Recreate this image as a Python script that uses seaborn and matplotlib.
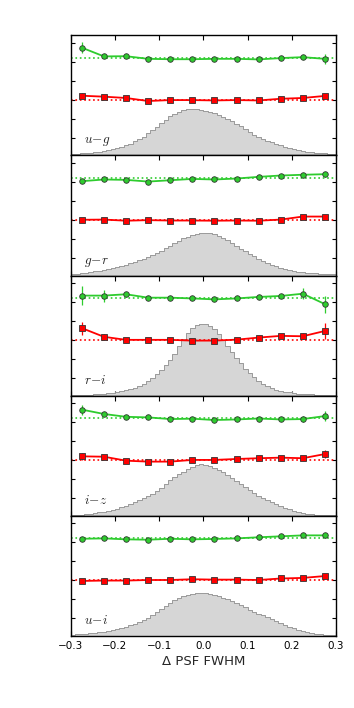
import numpy as np
import pandas as pd
import matplotlib
matplotlib.use("Agg")
import matplotlib.pyplot as plt
import seaborn as sns

OUT_PATH = "out.png"

# ─────────────────────────────────────────────
# Data
# ─────────────────────────────────────────────
PANEL_LABELS = [r"$u\!-\!g$", r"$g\!-\!r$", r"$r\!-\!i$", r"$i\!-\!z$", r"$u\!-\!i$"]

X_TICKS = [-0.3, -0.2, -0.1, 0.0, 0.1, 0.2, 0.3]
BIN_EDGES = [round(-0.3 + 0.01 * i, 3) for i in range(61)]

POINT_X = [-0.275, -0.225, -0.175, -0.125, -0.075, -0.025,
           0.025, 0.075, 0.125, 0.175, 0.225, 0.275]

# histogram heights, one per 0.01 bin from -0.3 to 0.3
HIST_UG = [0.09, 0.10, 0.11, 0.13, 0.14, 0.16, 0.19, 0.22, 0.27, 0.32,
           0.39, 0.46, 0.54, 0.63, 0.74, 0.86, 1.00, 1.17, 1.35, 1.53,
           1.72, 1.90, 2.07, 2.21, 2.32, 2.40, 2.45, 2.46, 2.45, 2.42,
           2.37, 2.30, 2.23, 2.14, 2.04, 1.93, 1.82, 1.69, 1.55, 1.40,
           1.24, 1.10, 0.98, 0.88, 0.79, 0.70, 0.61, 0.53, 0.46, 0.39,
           0.33, 0.28, 0.24, 0.21, 0.18, 0.15, 0.13, 0.12, 0.10, 0.09]
HIST_GR = [0.08, 0.10, 0.13, 0.16, 0.19, 0.22, 0.26, 0.30, 0.35, 0.40,
           0.46, 0.52, 0.58, 0.65, 0.72, 0.80, 0.89, 0.99, 1.09, 1.20,
           1.32, 1.45, 1.58, 1.71, 1.84, 1.96, 2.06, 2.14, 2.20, 2.23,
           2.24, 2.23, 2.19, 2.11, 2.00, 1.87, 1.73, 1.58, 1.43, 1.28,
           1.14, 1.01, 0.89, 0.78, 0.68, 0.58, 0.50, 0.42, 0.36, 0.30,
           0.25, 0.21, 0.18, 0.15, 0.13, 0.11, 0.09, 0.08, 0.07, 0.06]
HIST_RI = [0.02, 0.03, 0.03, 0.04, 0.05, 0.06, 0.07, 0.09, 0.12, 0.15,
           0.19, 0.24, 0.29, 0.35, 0.42, 0.51, 0.62, 0.77, 0.95, 1.16,
           1.38, 1.62, 1.88, 2.22, 2.60, 2.97, 3.30, 3.56, 3.72, 3.78,
           3.77, 3.70, 3.52, 3.25, 2.95, 2.62, 2.30, 1.98, 1.70, 1.43,
           1.18, 0.96, 0.77, 0.62, 0.50, 0.40, 0.32, 0.26, 0.21, 0.17,
           0.14, 0.11, 0.09, 0.07, 0.06, 0.05, 0.04, 0.03, 0.03, 0.02]
HIST_IZ = [0.03, 0.04, 0.06, 0.08, 0.11, 0.14, 0.17, 0.21, 0.25, 0.31,
           0.37, 0.44, 0.52, 0.61, 0.71, 0.81, 0.92, 1.04, 1.16, 1.30,
           1.49, 1.70, 1.90, 2.05, 2.19, 2.32, 2.46, 2.58, 2.66, 2.71,
           2.70, 2.63, 2.54, 2.42, 2.29, 2.16, 2.01, 1.86, 1.70, 1.53,
           1.36, 1.20, 1.06, 0.93, 0.81, 0.70, 0.60, 0.50, 0.41, 0.33,
           0.26, 0.20, 0.15, 0.11, 0.08, 0.06, 0.05, 0.04, 0.03, 0.03]
HIST_UI = [0.05, 0.07, 0.09, 0.11, 0.13, 0.15, 0.18, 0.21, 0.25, 0.30,
           0.35, 0.42, 0.49, 0.56, 0.64, 0.73, 0.83, 0.95, 1.09, 1.24,
           1.42, 1.60, 1.76, 1.89, 1.99, 2.08, 2.16, 2.22, 2.26, 2.27,
           2.25, 2.21, 2.15, 2.08, 2.00, 1.92, 1.83, 1.73, 1.62, 1.50,
           1.38, 1.27, 1.17, 1.08, 0.99, 0.89, 0.79, 0.69, 0.59, 0.49,
           0.40, 0.32, 0.25, 0.19, 0.14, 0.11, 0.08, 0.06, 0.05, 0.04]

GREEN_UG = [5.70, 5.24, 5.25, 5.11, 5.09, 5.09, 5.11, 5.11, 5.08, 5.15, 5.20, 5.11]
GREEN_GR = [4.99, 5.08, 5.06, 4.97, 5.04, 5.11, 5.08, 5.13, 5.22, 5.29, 5.33, 5.36]
GREEN_RI = [5.29, 5.29, 5.36, 5.18, 5.18, 5.14, 5.09, 5.14, 5.22, 5.27, 5.39, 4.84]
GREEN_IZ = [5.61, 5.38, 5.23, 5.20, 5.11, 5.13, 5.06, 5.09, 5.14, 5.09, 5.11, 5.27]
GREEN_UI = [5.13, 5.15, 5.10, 5.08, 5.13, 5.10, 5.12, 5.15, 5.21, 5.26, 5.31, 5.31]

GREEN_ERR_UG = [0.28, 0.08, 0.07, 0.06, 0.05, 0.05, 0.05, 0.05, 0.06, 0.07, 0.08, 0.26]
GREEN_ERR_GR = [0.10, 0.06, 0.05, 0.05, 0.05, 0.04, 0.04, 0.05, 0.05, 0.06, 0.08, 0.14]
GREEN_ERR_RI = [0.50, 0.32, 0.12, 0.08, 0.06, 0.05, 0.05, 0.06, 0.08, 0.12, 0.28, 0.45]
GREEN_ERR_IZ = [0.26, 0.10, 0.07, 0.06, 0.05, 0.05, 0.05, 0.05, 0.06, 0.08, 0.16, 0.28]
GREEN_ERR_UI = [0.08, 0.06, 0.05, 0.05, 0.04, 0.04, 0.04, 0.04, 0.05, 0.06, 0.08, 0.14]

RED_UG = [3.16, 3.11, 3.04, 2.88, 2.93, 2.93, 2.91, 2.93, 2.91, 3.00, 3.04, 3.15]
RED_GR = [2.95, 2.96, 2.90, 2.93, 2.91, 2.91, 2.90, 2.91, 2.90, 2.96, 3.12, 3.12]
RED_RI = [3.57, 3.11, 2.95, 2.95, 2.95, 2.91, 2.91, 2.96, 3.07, 3.16, 3.14, 3.42]
RED_IZ = [3.14, 3.12, 2.91, 2.86, 2.86, 2.95, 2.95, 3.00, 3.04, 3.07, 3.04, 3.26]
RED_UI = [2.90, 2.92, 2.92, 2.95, 2.95, 2.99, 2.97, 2.97, 2.95, 3.03, 3.06, 3.16]

RED_ERR_UG = [0.14, 0.07, 0.06, 0.05, 0.05, 0.05, 0.05, 0.05, 0.05, 0.06, 0.07, 0.12]
RED_ERR_GR = [0.06, 0.05, 0.04, 0.04, 0.04, 0.04, 0.04, 0.04, 0.05, 0.05, 0.07, 0.10]
RED_ERR_RI = [0.35, 0.15, 0.07, 0.05, 0.05, 0.05, 0.05, 0.05, 0.06, 0.10, 0.15, 0.40]
RED_ERR_IZ = [0.20, 0.10, 0.06, 0.05, 0.05, 0.04, 0.04, 0.05, 0.05, 0.06, 0.10, 0.22]
RED_ERR_UI = [0.06, 0.05, 0.04, 0.04, 0.04, 0.04, 0.04, 0.04, 0.04, 0.05, 0.06, 0.10]

GREEN_REF = 5.15
RED_REF = 2.95

HISTS = [HIST_UG, HIST_GR, HIST_RI, HIST_IZ, HIST_UI]
GREENS = [GREEN_UG, GREEN_GR, GREEN_RI, GREEN_IZ, GREEN_UI]
GREEN_ERRS = [GREEN_ERR_UG, GREEN_ERR_GR, GREEN_ERR_RI, GREEN_ERR_IZ, GREEN_ERR_UI]
REDS = [RED_UG, RED_GR, RED_RI, RED_IZ, RED_UI]
RED_ERRS = [RED_ERR_UG, RED_ERR_GR, RED_ERR_RI, RED_ERR_IZ, RED_ERR_UI]

GREEN_C = "#2ecc2e"
RED_C = "#ff0000"


# ─────────────────────────────────────────────
# Style
# ─────────────────────────────────────────────
sns.set_style("ticks")
plt.rcParams.update({
    "font.family": ["DejaVu Sans"],
    "mathtext.fontset": "cm",
    "xtick.direction": "in",
    "ytick.direction": "in",
    "xtick.top": True,
    "ytick.right": True,
    "xtick.major.size": 3.5,
    "ytick.major.size": 3.0,
    "axes.edgecolor": "black",
    "axes.linewidth": 1.0,
    "xtick.color": "black",
    "ytick.color": "black",
})


def draw_panel(ax, label, hist, green, green_err, red, red_err):
    centers = [0.5 * (a + b) for a, b in zip(BIN_EDGES[:-1], BIN_EDGES[1:])]
    hdf = pd.DataFrame({"x": centers, "w": hist})
    sns.histplot(data=hdf, x="x", weights="w", bins=BIN_EDGES, element="step",
                 fill=True, facecolor="#d6d6d6", edgecolor="#9a9a9a",
                 alpha=1, linewidth=0.7, ax=ax, zorder=1)

    ax.axhline(GREEN_REF, color=GREEN_C, linestyle=":", lw=1.2, zorder=2)
    ax.axhline(RED_REF, color=RED_C, linestyle=":", lw=1.2, zorder=2)

    for vals, errs, col, mk in [(green, green_err, GREEN_C, "o"),
                                (red, red_err, RED_C, "s")]:
        ax.errorbar(POINT_X, vals, yerr=errs, fmt="none", ecolor=col,
                    elinewidth=0.9, capsize=0, zorder=3)
        sns.lineplot(x=POINT_X, y=vals, color=col, lw=1.3, marker=mk,
                     markersize=4.0,
                     markeredgecolor="#333333", markeredgewidth=0.6,
                     ax=ax, zorder=4)

    ax.text(0.05, 0.1, label, transform=ax.transAxes, fontsize=9.5,
            ha="left", va="baseline")

    ax.set_xlim(-0.3, 0.3)
    ax.set_ylim(0, 6.35)
    ax.set_yticks([0.95, 1.95, 2.95, 3.95, 4.95, 5.95])
    ax.set_yticklabels([])
    ax.set_xticks(X_TICKS)
    ax.set_ylabel("")
    ax.set_xlabel("")


def main():
    fig, axes = plt.subplots(5, 1, figsize=(3.54, 7.08), dpi=100, sharex=True)
    fig.subplots_adjust(left=0.2, right=0.949, top=0.95, bottom=0.102, hspace=0)

    for ax, lab, h, g, ge, r, re in zip(axes, PANEL_LABELS, HISTS, GREENS,
                                         GREEN_ERRS, REDS, RED_ERRS):
        draw_panel(ax, lab, h, g, ge, r, re)

    axes[-1].set_xticklabels(["\u22120.3", "\u22120.2", "\u22120.1", "0.0",
                              "0.1", "0.2", "0.3"], fontsize=7.5)
    axes[-1].set_xlabel("\u0394 PSF FWHM", fontsize=9.5, labelpad=3)

    fig.savefig(OUT_PATH, dpi=100)
    plt.close(fig)


if __name__ == "__main__":
    main()
